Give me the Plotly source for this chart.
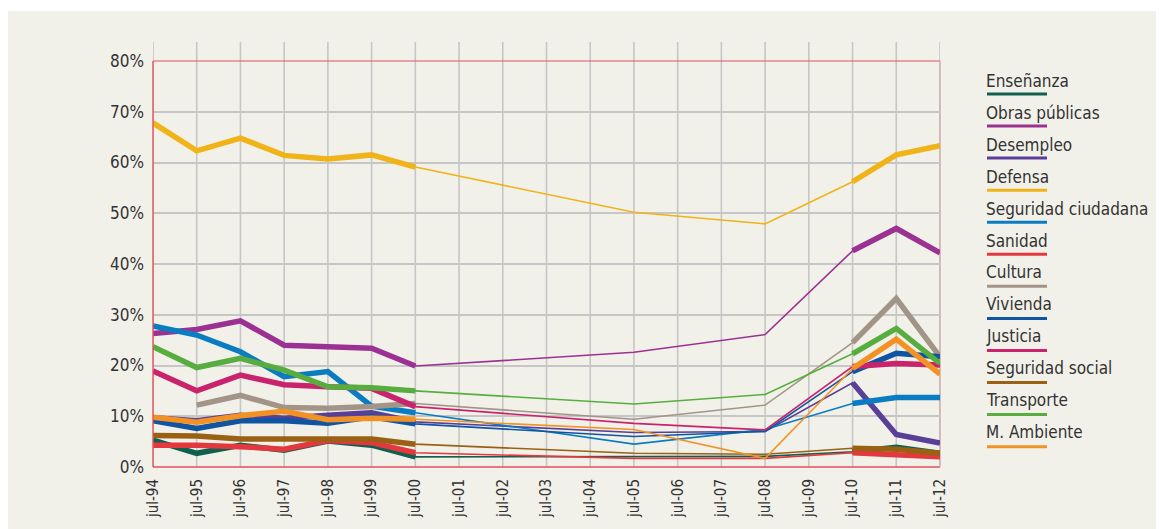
import plotly.graph_objects as go

categories = ["jul-94", "jul-95", "jul-96", "jul-97", "jul-98", "jul-99", "jul-00",
              "jul-01", "jul-02", "jul-03", "jul-04", "jul-05", "jul-06", "jul-07",
              "jul-08", "jul-09", "jul-10", "jul-11", "jul-12"]
survey_dates = ["jul-94", "jul-95", "jul-96", "jul-97", "jul-98", "jul-99", "jul-00",
                "jul-05", "jul-08", "jul-10", "jul-11", "jul-12"]

ensenanza = [5.3, 2.7, 4.3, 3.3, 5.1, 4.3, 2.0, 2.0, 2.1, 3.0, 3.9, 2.7]
obras_publicas = [26.3, 27.1, 28.8, 24.0, 23.7, 23.4, 19.9, 22.6, 26.1, 42.6, 47.0, 42.2]
desempleo = [9.7, 9.1, 10.2, 9.6, 10.2, 10.7, 8.9, 6.8, 7.0, 16.6, 6.4, 4.7]
defensa = [67.8, 62.3, 64.8, 61.4, 60.7, 61.5, 59.1, 50.2, 47.9, 56.2, 61.5, 63.3]
seguridad_ciudadana = [27.8, 26.0, 22.7, 17.8, 18.8, 12.0, 10.7, 4.5, 7.4, 12.5, 13.7, 13.7]
sanidad = [4.3, 4.3, 4.0, 3.5, 5.2, 4.8, 2.8, 1.7, 1.7, 2.8, 2.4, 2.0]
cultura = [None, 12.2, 14.1, 11.7, 11.6, 11.9, 12.5, 9.4, 12.2, 24.5, 33.2, 21.7]
vivienda = [9.1, 7.6, 9.1, 9.1, 8.6, 9.9, 8.5, 6.0, 7.0, 18.8, 22.4, 21.7]
justicia = [18.9, 15.0, 18.1, 16.2, 15.8, 15.5, 11.9, 8.6, 7.3, 19.8, 20.4, 20.1]
seguridad_social = [6.2, 6.1, 5.5, 5.5, 5.6, 5.5, 4.5, 2.7, 2.5, 3.7, 3.5, 2.7]
transporte = [23.7, 19.6, 21.4, 19.1, 15.8, 15.6, 15.0, 12.4, 14.3, 22.3, 27.3, 20.4]
m_ambiente = [9.8, 8.8, 10.1, 11.0, 9.3, 9.6, 9.4, 7.4, 1.7, 19.4, 25.2, 18.3]

series_names = ["Enseñanza", "Obras públicas", "Desempleo", "Defensa", "Seguridad ciudadana",
                "Sanidad", "Cultura", "Vivienda", "Justicia", "Seguridad social",
                "Transporte", "M. Ambiente"]
series_values = [ensenanza, obras_publicas, desempleo, defensa, seguridad_ciudadana, sanidad,
                 cultura, vivienda, justicia, seguridad_social, transporte, m_ambiente]
series_colors = ["#10604F", "#9B3192", "#5A3F98", "#F0B318", "#0A7CC1", "#E2383E",
                 "#A39488", "#0F55A2", "#C9236D", "#9A6115", "#57AE3F", "#F39224"]

y_ticks = [0, 10, 20, 30, 40, 50, 60, 70, 80]
y_tick_labels = ["0%", "10%", "20%", "30%", "40%", "50%", "60%", "70%", "80%"]

FONT = "Liberation Sans Narrow, DejaVu Sans Condensed, Arial Narrow, Roboto, sans-serif"
BG = "#F2F1E9"

# page has an 8px body margin; work in screenshot pixels and convert
OFF = 8
W, H = 1164 - OFF, 529 - OFF
L, R, T, B = 153 - OFF, 940 - OFF, 61 - OFF, 467 - OFF

def px_x(p):
    return (p - OFF - L) / (R - L)

def px_y(q):
    return (B - (q - OFF)) / (B - T)

fig = go.Figure()

thick_blocks = [(0, 7), (9, 12)]
for name, vals, col in zip(series_names, series_values, series_colors):
    fig.add_trace(go.Scatter(x=survey_dates, y=vals, mode="lines",
                             line=dict(color=col, width=1.6), showlegend=False,
                             hoverinfo="skip"))
    for a, b in thick_blocks:
        fig.add_trace(go.Scatter(x=survey_dates[a:b], y=vals[a:b], mode="lines",
                                 line=dict(color=col, width=5.5), showlegend=False,
                                 name=name))

shapes = []
shapes.append(dict(type="rect", xref="paper", yref="paper", layer="below",
                   x0=px_x(0), x1=px_x(1200), y0=px_y(11), y1=px_y(600),
                   line=dict(width=0), fillcolor=BG))
for i in range(len(categories)):
    shapes.append(dict(type="line", xref="x", yref="paper", layer="below",
                       x0=i, x1=i, y0=0, y1=px_y(42),
                       line=dict(color="#C6C6C6", width=1.6)))
shapes.append(dict(type="line", xref="paper", yref="paper", layer="above",
                   x0=0, x1=0, y0=0, y1=1, line=dict(color="#E0525A", width=1.4)))
shapes.append(dict(type="line", xref="paper", yref="paper", layer="below",
                   x0=0, x1=1, y0=1, y1=1, line=dict(color="#E0525A", width=1.2)))
shapes.append(dict(type="line", xref="paper", yref="paper", layer="below",
                   x0=0, x1=1, y0=0, y1=0, line=dict(color="#E0525A", width=1.4)))
shapes.append(dict(type="line", xref="paper", yref="paper", layer="below",
                   x0=1, x1=1, y0=0, y1=1, line=dict(color="#CDB3B3", width=1.6)))

annotations = []
for i, (name, col) in enumerate(zip(series_names, series_colors)):
    ty = 81 + 31.9 * i
    ly = 94 + 32.06 * i
    annotations.append(dict(xref="paper", yref="paper", x=px_x(984), y=px_y(ty),
                            xanchor="left", yanchor="middle", showarrow=False,
                            text=name, font=dict(family=FONT, size=17, color="#333333")))
    shapes.append(dict(type="line", xref="paper", yref="paper",
                       x0=px_x(987), x1=px_x(1047), y0=px_y(ly), y1=px_y(ly),
                       line=dict(color=col, width=3)))

fig.update_layout(
    width=W, height=H,
    margin=dict(l=L, r=W - R, t=T, b=H - B, pad=0),
    paper_bgcolor="white", plot_bgcolor="rgba(0,0,0,0)",
    showlegend=False,
    shapes=shapes, annotations=annotations,
    xaxis=dict(type="category", categoryorder="array", categoryarray=categories,
               range=[0, len(categories) - 1], showgrid=False, zeroline=False,
               showline=False, ticks="", tickangle=-90, automargin=False,
               ticklabelstandoff=8,
               tickfont=dict(family=FONT, size=15, color="#333333")),
    yaxis=dict(range=[0, 80], tickvals=y_ticks, ticktext=y_tick_labels,
               showgrid=True, gridcolor="#C6C6C6", gridwidth=1.6, zeroline=False,
               showline=False, ticks="", ticklabelstandoff=8, automargin=False,
               tickfont=dict(family=FONT, size=17, color="#333333")),
)

fig.write_html("out.html")
